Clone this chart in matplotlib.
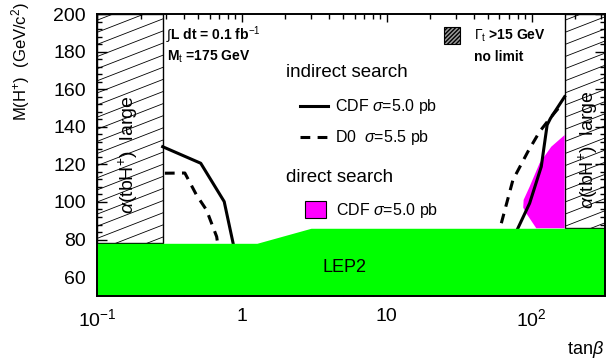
import numpy as np
import matplotlib
matplotlib.use("Agg")
import matplotlib.pyplot as plt
from matplotlib.patches import Rectangle, Polygon
from matplotlib.ticker import FixedLocator, LogLocator, MultipleLocator, NullFormatter

plt.rcParams["font.family"] = ["Liberation Sans", "DejaVu Sans"]
plt.rcParams["mathtext.fontset"] = "custom"
plt.rcParams["mathtext.rm"] = "Liberation Sans"
plt.rcParams["mathtext.it"] = "Liberation Sans:italic"

# axis ranges
tb_min, tb_max = 0.1, 320.0
m_min, m_max = 50.0, 200.0

# region where alpha(tbH+) is large (hatched)
alpha_left = [0.1, 0.285]
alpha_right = [169.0, 320.0]

# LEP2 excluded region (upper edge)
lep_tb = [0.1, 1.27, 3.0, 320.0]
lep_m = [78.0, 78.0, 86.0, 86.0]

# indirect search, CDF sigma = 5.0 pb
cdf_left_tb = [0.284, 0.52, 0.755, 0.87]
cdf_left_m = [129.4, 120.6, 100.2, 78.0]
cdf_right_tb = [80.4, 96.9, 116.6, 128.0, 135.0, 169.0]
cdf_right_m = [86.0, 99.3, 118.8, 141.0, 144.5, 156.0]

# indirect search, D0 sigma = 5.5 pb
d0_left_tb = [0.294, 0.404, 0.486, 0.57, 0.67, 0.68]
d0_left_m = [115.3, 115.4, 103.7, 95.7, 81.5, 78.0]
d0_right_tb = [61.8, 74.3, 94.3, 113.5, 136.7, 160.0]
d0_right_m = [88.7, 111.7, 126.8, 137.4, 145.4, 151.6]

# direct search, CDF sigma = 5.0 pb (excluded area)
direct_tb = [169.0, 136.7, 113.5, 96.9, 88.1, 87.5, 91.8, 107.7, 169.0]
direct_m = [135.6, 129.4, 120.6, 108.1, 101.1, 97.0, 94.0, 86.0, 86.0]

fig = plt.figure(figsize=(6.14, 3.6), dpi=100)
ax = fig.add_axes([0.158, 0.178, 0.827, 0.783])
ax.set_xscale("log")
ax.set_xlim(tb_min, tb_max)
ax.set_ylim(m_min, m_max)


def hatch_band(ax, x0, x1, y0, y1):
    box = Rectangle((x0, y0), x1 - x0, y1 - y0, facecolor="white",
                    edgecolor="black", linewidth=1.0, zorder=1)
    ax.add_patch(box)
    # shallow diagonal strokes, clipped to the box
    xs = np.array([0.0, 1.0])
    for c in np.arange(-1.0, 1.05, 0.043):
        ln, = ax.plot(xs, c + 0.7 * xs, transform=ax.transAxes,
                      color="black", linewidth=0.6, zorder=1.5)
        ln.set_clip_path(box)


hatch_band(ax, alpha_left[0], alpha_left[1], lep_m[0], m_max)
hatch_band(ax, alpha_right[0], alpha_right[1], lep_m[-1], m_max)

ax.add_patch(Polygon(np.column_stack([direct_tb, direct_m]), closed=True,
                     facecolor="#ff00ff", edgecolor="none", zorder=2))

ax.fill_between(lep_tb, m_min, lep_m, color="#00ff00", linewidth=0, zorder=3)

ax.plot(cdf_left_tb, cdf_left_m, color="black", linewidth=2.2, zorder=2.5)
ax.plot(cdf_right_tb, cdf_right_m, color="black", linewidth=2.2, zorder=2.5)
ax.plot(d0_left_tb, d0_left_m, color="black", linewidth=2.2,
        dashes=(3.2, 2.4), zorder=2.5)
ax.plot(d0_right_tb, d0_right_m, color="black", linewidth=2.2,
        dashes=(3.2, 2.4), zorder=2.5)

# ticks on every side, pointing in
ax.xaxis.set_major_locator(FixedLocator([0.1, 1, 10, 100]))
ax.xaxis.set_minor_locator(LogLocator(base=10, subs=np.arange(2, 10)))
ax.xaxis.set_minor_formatter(NullFormatter())
ax.set_xticklabels([r"$10^{-1}$", "1", "10", r"$10^{2}$"])
ax.yaxis.set_major_locator(MultipleLocator(20))
ax.yaxis.set_minor_locator(MultipleLocator(4))
ax.tick_params(which="both", direction="in", top=True, right=True,
               labelsize=14, width=1.0)
ax.tick_params(axis="x", which="major", length=6, pad=9)
ax.tick_params(axis="y", which="major", length=7, pad=8)
ax.tick_params(which="minor", length=3.5)
for s in ax.spines.values():
    s.set_linewidth(1.4)
    s.set_zorder(5)

# in-plot annotations
alpha_label = r"$\alpha$(tbH$^{+}$)  large"
ax.text(0.061, 0.50, alpha_label, transform=ax.transAxes,
        rotation=90, ha="center", va="center", fontsize=14, zorder=4)
ax.text(0.968, 0.52, alpha_label, transform=ax.transAxes,
        rotation=90, ha="center", va="center", fontsize=14, zorder=4)
ax.text(0.136, 0.925, r"$\int$L dt = 0.1 fb$^{-1}$", transform=ax.transAxes,
        ha="left", va="center", fontsize=10, fontweight="bold", zorder=4)
ax.text(0.138, 0.848, r"M$_{\rm t}$ =175 GeV", transform=ax.transAxes,
        ha="left", va="center", fontsize=10, fontweight="bold", zorder=4)

ax.add_patch(Rectangle((0.684, 0.894), 0.031, 0.06, transform=ax.transAxes,
                       facecolor="#999999", edgecolor="black", hatch="////////",
                       linewidth=0.8, zorder=4))
ax.text(0.742, 0.924, r"$\Gamma_{\rm t}$ >15 GeV", transform=ax.transAxes,
        ha="left", va="center", fontsize=10, fontweight="bold", zorder=4)
ax.text(0.742, 0.849, "no limit", transform=ax.transAxes,
        ha="left", va="center", fontsize=10, fontweight="bold", zorder=4)

ax.text(0.372, 0.792, "indirect search", transform=ax.transAxes,
        ha="left", va="center", fontsize=13.5, zorder=4)
ax.plot([0.399, 0.454], [0.673, 0.673], transform=ax.transAxes,
        color="black", linewidth=2.2, zorder=4)
ax.text(0.468, 0.673, r"CDF $\sigma$=5.0 pb", transform=ax.transAxes,
        ha="left", va="center", fontsize=11.5, zorder=4)
ax.plot([0.399, 0.457], [0.563, 0.563], transform=ax.transAxes,
        color="black", linewidth=2.2, dashes=(3.2, 2.4), zorder=4)
ax.text(0.468, 0.563, r"D0  $\sigma$=5.5 pb", transform=ax.transAxes,
        ha="left", va="center", fontsize=11.5, zorder=4)
ax.text(0.372, 0.42, "direct search", transform=ax.transAxes,
        ha="left", va="center", fontsize=13.5, zorder=4)
ax.add_patch(Rectangle((0.409, 0.275), 0.041, 0.06, transform=ax.transAxes,
                       facecolor="#ff00ff", edgecolor="black", linewidth=0.8,
                       zorder=4))
ax.text(0.47, 0.303, r"CDF $\sigma$=5.0 pb", transform=ax.transAxes,
        ha="left", va="center", fontsize=11.5, zorder=4)

ax.text(0.487, 0.10, "LEP2", transform=ax.transAxes,
        ha="center", va="center", fontsize=13, zorder=4)

fig.text(0.033, 0.83, r"M(H$^{+}$)  (GeV/c$^{2}$)", rotation=90,
         ha="center", va="center", fontsize=12)
fig.text(0.953, 0.03, r"tan$\beta$", ha="center", va="center", fontsize=13)

fig.savefig("out.png", dpi=100)
